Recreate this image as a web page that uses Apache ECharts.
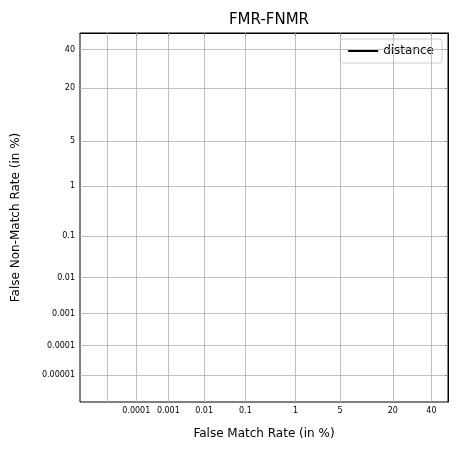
<!DOCTYPE html>
<html>
<head>
<meta charset="UTF-8">
<script src="https://cdn.jsdelivr.net/npm/echarts@6/dist/echarts.min.js"></script>
</head>
<body style="margin:0">
<div id="main" style="width:458px;height:451px;"></div>
<script>
// tick values in percent (probit-scaled axes)
var xTicks = [0.00001, 0.0001, 0.001, 0.01, 0.1, 1, 5, 20, 40];
var yTicks = [0.00001, 0.0001, 0.001, 0.01, 0.1, 1, 5, 20, 40];
var xLabels = ['0.00001', '0.0001', '0.001', '0.01', '0.1', '1', '5', '20', '40'];
var yLabels = ['0.00001', '0.0001', '0.001', '0.01', '0.1', '1', '5', '20', '40'];
var distFMR = [];   // no curve visible in the picture
var distFNMR = [];

// inverse normal CDF (Acklam)
function probit(p) {
    var a = [-39.6968302866538, 220.946098424521, -275.928510446969, 138.357751867269, -30.6647980661472, 2.50662827745924];
    var b = [-54.4760987982241, 161.585836858041, -155.698979859887, 66.8013118877197, -13.2806815528857];
    var c = [-0.00778489400243029, -0.322396458041136, -2.40075827716184, -2.54973253934373, 4.37466414146497, 2.93816398269878];
    var d = [0.00778469570904146, 0.32246712907004, 2.445134137143, 3.75440866190742];
    var q, r;
    if (p < 0.02425) {
        q = Math.sqrt(-2 * Math.log(p));
        return (((((c[0]*q+c[1])*q+c[2])*q+c[3])*q+c[4])*q+c[5]) / ((((d[0]*q+d[1])*q+d[2])*q+d[3])*q+1);
    } else if (p <= 0.97575) {
        q = p - 0.5; r = q * q;
        return (((((a[0]*r+a[1])*r+a[2])*r+a[3])*r+a[4])*r+a[5])*q / (((((b[0]*r+b[1])*r+b[2])*r+b[3])*r+b[4])*r+1);
    }
    q = Math.sqrt(-2 * Math.log(1 - p));
    return -(((((c[0]*q+c[1])*q+c[2])*q+c[3])*q+c[4])*q+c[5]) / ((((d[0]*q+d[1])*q+d[2])*q+d[3])*q+1);
}
function pc(v) { return probit(v / 100); }

var xPos = xTicks.map(pc);
var yPos = yTicks.map(pc);
function labelFor(pos, list, labels) {
    for (var i = 0; i < list.length; i++) if (Math.abs(list[i] - pos) < 1e-6) return labels[i];
    return '';
}

var gridLines = [];
xPos.forEach(function (v) { gridLines.push({xAxis: v}); });
yPos.forEach(function (v) { gridLines.push({yAxis: v}); });

var data = distFMR.map(function (v, i) { return [pc(v), pc(distFNMR[i])]; });

var chart = echarts.init(document.getElementById('main'));
chart.setOption({
    animation: false,
    title: {text: 'FMR-FNMR', left: 264, top: 8, textAlign: 'center',
        textStyle: {fontSize: 15, fontWeight: 'normal', color: '#000', fontFamily: 'DejaVu Sans'}},
    legend: {right: 16, top: 39, data: [{name: 'distance', icon: 'path://M0,4L30,4L30,6L0,6Z'}],
        itemWidth: 30, itemHeight: 10, itemGap: 6,
        borderColor: '#cccccc', borderWidth: 1, borderRadius: 3, padding: [6, 8],
        textStyle: {fontSize: 12, color: '#000', fontFamily: 'DejaVu Sans'}},
    grid: {left: 80, right: 10, top: 33, bottom: 49, show: true, borderColor: '#000', borderWidth: 1},
    xAxis: {
        type: 'value', min: probit(1e-8), max: 0,
        name: 'False Match Rate (in %)', nameLocation: 'middle', nameGap: 26,
        nameTextStyle: {fontSize: 12, color: '#000', fontFamily: 'DejaVu Sans'},
        axisLine: {show: true, lineStyle: {color: '#000'}},
        axisTick: {show: true, customValues: xPos, length: 3, inside: false, lineStyle: {color: '#000'}},
        axisLabel: {customValues: xPos, fontSize: 8, color: '#000', fontFamily: 'DejaVu Sans', margin: 5,
            hideOverlap: false, interval: 0,
            formatter: function (v) { return labelFor(v, xPos, xLabels); }},
        splitLine: {show: false}
    },
    yAxis: {
        type: 'value', min: probit(1e-8), max: 0,
        name: 'False Non-Match Rate (in %)', nameLocation: 'middle', nameGap: 58,
        nameTextStyle: {fontSize: 12, color: '#000', fontFamily: 'DejaVu Sans'},
        axisLine: {show: true, lineStyle: {color: '#000'}},
        axisTick: {show: true, customValues: yPos, length: 3, lineStyle: {color: '#000'}},
        axisLabel: {customValues: yPos, fontSize: 8, color: '#000', fontFamily: 'DejaVu Sans', margin: 5,
            hideOverlap: false, interval: 0,
            formatter: function (v) { return labelFor(v, yPos, yLabels); }},
        splitLine: {show: false}
    },
    series: [{
        name: 'distance', type: 'line', symbol: 'none', data: data,
        lineStyle: {color: '#000', width: 2}, itemStyle: {color: '#000'},
        markLine: {silent: true, symbol: 'none', label: {show: false},
            lineStyle: {color: '#b0b0b0', type: 'solid', width: 0.8}, data: gridLines}
    }]
});
</script>
</body>
</html>
